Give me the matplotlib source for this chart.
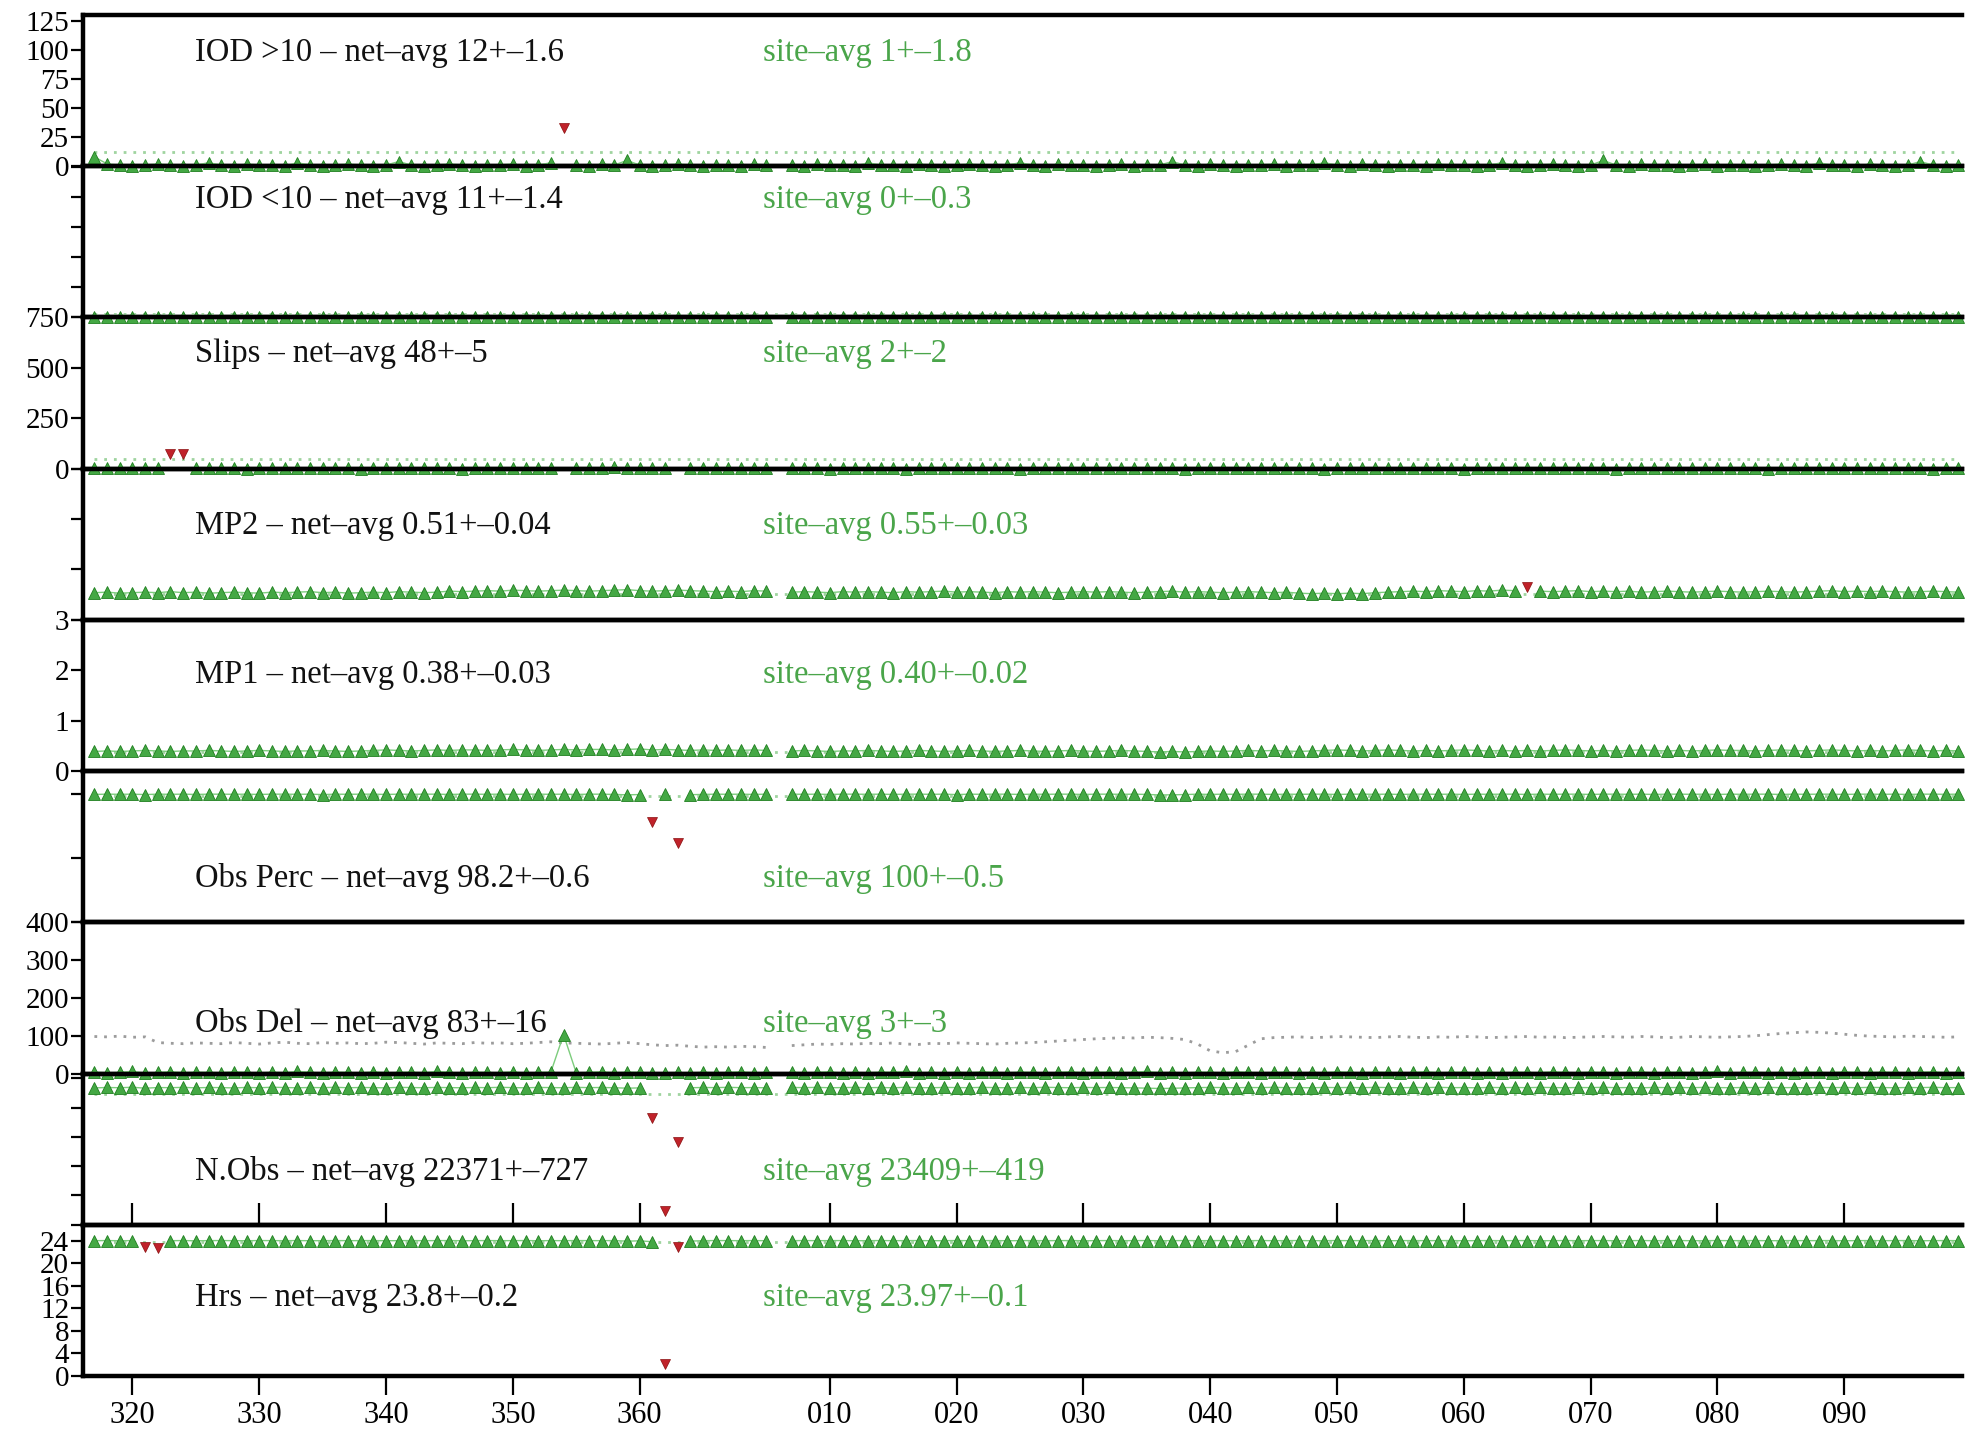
import numpy as np
import matplotlib.pyplot as plt

plt.rcParams['font.family'] = ['Liberation Serif', 'DejaVu Serif']

# day numbers (day of year, continued past 365 into the next year)
days = list(range(317, 465))
x_ticks = [320, 330, 340, 350, 360, 375, 385, 395, 405, 415, 425, 435, 445, 455]
x_labels = ['320', '330', '340', '350', '360', '010', '020', '030', '040',
            '050', '060', '070', '080', '090']

panel_names = ['IOD >10', 'IOD <10', 'Slips', 'MP2', 'MP1',
               'Obs Perc', 'Obs Del', 'N.Obs', 'Hrs']
net_avg = [12, 11, 48, 0.51, 0.38, 98.2, 83, 22371, 23.8]
net_text = ['12+–1.6', '11+–1.4', '48+–5', '0.51+–0.04', '0.38+–0.03',
            '98.2+–0.6', '83+–16', '22371+–727', '23.8+–0.2']
site_text = ['1+–1.8', '0+–0.3', '2+–2', '0.55+–0.03', '0.40+–0.02',
             '100+–0.5', '3+–3', '23409+–419', '23.97+–0.1']

# site daily values (None = missing / flagged)
iod_hi = [8, 2, 1, 0, 1, 2, 1, 0, 1, 3,
          1, 0, 2, 1, 1, 0, 3, 1, 0, 1,
          2, 1, 0, 1, 4, 1, 0, 1, 2, 1,
          0, 1, 1, 2, 0, 1, 3, None, 1, 0,
          2, 1, 5, 1, 0, 1, 2, 1, 0, 1,
          1, 0, 2, 1, None, 1, 0, 2, 1, 1,
          0, 3, 1, 1, 0, 2, 1, 0, 1, 2,
          1, 0, 1, 3, 1, 0, 2, 1, 1, 0,
          1, 2, 0, 1, 1, 4, 1, 0, 2, 1,
          0, 1, 1, 2, 0, 1, 1, 3, 1, 0,
          2, 1, 0, 1, 1, 0, 2, 1, 1, 0,
          1, 3, 1, 0, 1, 2, 1, 0, 1, 5,
          1, 0, 2, 1, 1, 0, 1, 2, 0, 1,
          1, 0, 1, 2, 1, 0, 3, 1, 1, 0,
          2, 1, 0, 1, 4, 1, 0, 1]
iod_lo = [0, 0, 1, 0, 0, 0, 0, 1, 0, 0,
          0, 1, 0, 0, 0, 0, 0, 0, 1, 0,
          0, 0, 0, 1, 0, 0, 0, 0, 0, 0,
          1, 0, 0, 0, 0, 0, 1, 0, 0, 0,
          0, 0, 0, 0, 1, 0, 0, 0, 0, 0,
          0, 1, 0, 0, None, 0, 0, 0, 1, 0,
          0, 0, 0, 0, 0, 1, 0, 0, 0, 0,
          1, 0, 0, 0, 0, 0, 0, 1, 0, 0,
          0, 0, 1, 0, 0, 0, 0, 0, 0, 1,
          0, 0, 0, 0, 1, 0, 0, 0, 0, 0,
          0, 1, 0, 0, 0, 0, 0, 0, 1, 0,
          0, 0, 0, 1, 0, 0, 0, 0, 0, 0,
          1, 0, 0, 0, 0, 0, 1, 0, 0, 0,
          0, 0, 0, 0, 0, 1, 0, 0, 0, 0,
          0, 1, 0, 0, 0, 0, 0, 1]
slips = [3, 1, 2, 4, 2, 1, None, None, 2, 3,
         1, 2, 0, 3, 2, 4, 1, 2, 3, 1,
         2, 0, 1, 3, 2, 2, 5, 1, 2, 0,
         3, 2, 1, 2, 4, 1, 2, None, 3, 1,
         2, 6, 1, 2, 3, 1, None, 2, 1, 3,
         2, 1, 4, 2, None, 1, 2, 3, 0, 2,
         1, 3, 2, 2, 0, 4, 1, 2, 3, 1,
         2, 1, 3, 0, 2, 2, 4, 1, 2, 3,
         1, 2, 2, 5, 1, 3, 0, 2, 1, 2,
         3, 1, 2, 4, 2, 1, 2, 0, 3, 2,
         1, 2, 3, 1, 2, 4, 1, 2, 0, 3,
         2, 1, 2, 3, 1, 2, 5, 1, 2, 2,
         0, 3, 1, 2, 4, 2, 1, 2, 3, 1,
         2, 2, 0, 1, 3, 2, 4, 1, 2, 3,
         1, 2, 2, 3, 1, 0, 2, 3]
mp2 = [.54, .55, .53, .54, .55, .54, .56, .54, .55, .53,
       .54, .55, .54, .53, .55, .54, .55, .56, .54, .55,
       .53, .54, .55, .54, .56, .55, .54, .55, .57, .56,
       .57, .58, .57, .59, .58, .57, .58, .59, .58, .57,
       .58, .59, .60, .58, .57, .58, .59, .58, .57, .56,
       .57, .56, .58, .57, None, .55, .56, .55, .54, .56,
       .55, .56, .55, .54, .56, .55, .56, .57, .55, .56,
       .55, .54, .56, .55, .56, .55, .54, .55, .56, .55,
       .56, .55, .54, .55, .56, .57, .55, .56, .55, .54,
       .55, .56, .55, .54, .55, .53, .52, .53, .52, .53,
       .52, .54, .55, .56, .57, .56, .58, .57, .56, .58,
       .57, .59, .58, None, .57, .56, .57, .58, .56, .57,
       .56, .57, .55, .56, .57, .56, .55, .56, .57, .56,
       .55, .56, .57, .56, .55, .56, .57, .58, .56, .57,
       .56, .57, .56, .55, .56, .57, .56, .55]
mp1 = [.39, .40, .39, .40, .41, .40, .39, .40, .40, .41,
       .40, .39, .40, .41, .40, .39, .40, .40, .41, .40,
       .39, .40, .41, .42, .41, .40, .41, .42, .41, .42,
       .42, .41, .42, .43, .42, .41, .42, .43, .42, .43,
       .43, .42, .43, .44, .42, .43, .42, .41, .42, .41,
       .42, .41, .42, .41, None, .40, .41, .40, .39, .40,
       .40, .41, .40, .39, .40, .41, .40, .39, .40, .41,
       .40, .39, .40, .41, .40, .39, .40, .41, .40, .39,
       .40, .41, .40, .39, .38, .39, .38, .39, .40, .39,
       .40, .41, .40, .41, .40, .39, .40, .41, .42, .41,
       .40, .41, .42, .41, .40, .41, .40, .41, .42, .41,
       .40, .41, .40, .41, .40, .41, .42, .41, .40, .41,
       .40, .41, .42, .41, .40, .41, .40, .41, .42, .41,
       .41, .40, .41, .42, .41, .40, .41, .42, .41, .40,
       .41, .40, .41, .42, .41, .40, .41, .40]
obs_perc = [99.8, 100, 99.9, 100, 99.7, 100, 99.9, 100, 99.8, 100,
            100, 99.9, 100, 99.8, 100, 100, 99.9, 100, 99.7, 100,
            99.9, 100, 100, 99.8, 100, 99.9, 100, 100, 99.8, 100,
            100, 99.9, 100, 99.8, 100, 100, 99.9, 100, 99.8, 100,
            100, 99.8, 99.5, 99.7, None, 100, None, 99.6, 99.8, 100,
            99.9, 100, 99.8, 100, None, 100, 99.9, 100, 99.8, 100,
            100, 99.9, 100, 99.8, 100, 100, 99.9, 100, 99.7, 100,
            99.9, 100, 100, 99.8, 100, 99.9, 100, 100, 99.8, 100,
            100, 99.9, 100, 99.8, 99.4, 99.5, 99.7, 100, 99.8, 100,
            99.9, 100, 100, 99.8, 100, 99.9, 100, 100, 99.8, 100,
            100, 99.9, 100, 99.8, 100, 100, 99.9, 100, 99.8, 100,
            99.9, 100, 100, 99.8, 100, 99.9, 100, 100, 99.8, 100,
            100, 99.9, 100, 99.8, 100, 100, 99.9, 100, 99.8, 100,
            99.9, 100, 100, 99.8, 100, 99.9, 100, 100, 99.8, 100,
            100, 99.9, 100, 99.8, 100, 100, 99.9, 100]
obs_del = [4, 2, 3, 6, 1, 3, 5, 2, 4, 3,
           2, 5, 3, 1, 4, 2, 6, 3, 2, 4,
           3, 1, 5, 2, 3, 4, 2, 6, 3, 1,
           4, 3, 2, 5, 1, 3, 4, 103, 2, 3,
           5, 2, 4, 3, 1, 2, 3, 1, 4, 2,
           3, 5, 2, 3, None, 4, 2, 3, 5, 1,
           3, 2, 4, 3, 6, 2, 3, 1, 4, 2,
           5, 3, 2, 4, 3, 1, 3, 5, 2, 3,
           4, 2, 3, 6, 2, 3, 1, 4, 3, 2,
           5, 3, 2, 3, 4, 1, 3, 2, 5, 3,
           2, 4, 3, 1, 3, 5, 2, 3, 4, 2,
           3, 1, 4, 3, 2, 5, 3, 2, 4, 3,
           2, 3, 5, 1, 3, 4, 2, 3, 6, 2,
           3, 4, 2, 3, 1, 4, 3, 2, 5, 3,
           2, 4, 3, 1, 3, 5, 2, 3]
n_obs = [23350, 23420, 23380, 23460, 23300, 23410, 23390, 23440, 23360, 23420,
         23400, 23350, 23430, 23380, 23460, 23410, 23370, 23420, 23390, 23450,
         23380, 23420, 23400, 23360, 23440, 23410, 23380, 23430, 23400, 23370,
         23420, 23390, 23450, 23400, 23370, 23430, 23410, 23380, 23440, 23400,
         23420, 23380, 23300, 23350, None, None, None, 23380, 23420, 23400,
         23450, 23390, 23410, 23370, None, 23420, 23400, 23440, 23380, 23410,
         23430, 23390, 23420, 23370, 23450, 23400, 23380, 23430, 23410, 23390,
         23440, 23400, 23370, 23420, 23390, 23450, 23410, 23380, 23430, 23400,
         23420, 23390, 23360, 23300, 23250, 23280, 23350, 23400, 23430, 23410,
         23380, 23420, 23400, 23450, 23390, 23410, 23370, 23430, 23400, 23420,
         23390, 23440, 23410, 23380, 23420, 23400, 23450, 23390, 23410, 23370,
         23430, 23400, 23420, 23390, 23440, 23410, 23380, 23420, 23400, 23450,
         23390, 23410, 23370, 23430, 23400, 23420, 23390, 23440, 23410, 23380,
         23420, 23400, 23450, 23390, 23410, 23370, 23430, 23400, 23420, 23390,
         23440, 23410, 23380, 23420, 23400, 23450, 23390, 23410]
hrs = [23.98, 24.0, 23.97, 23.99, None, None, 23.98, 24.0, 23.96, 23.99,
       24.0, 23.98, 23.97, 24.0, 23.99, 23.98, 24.0, 23.97, 23.99, 24.0,
       23.98, 23.99, 24.0, 23.97, 23.99, 24.0, 23.98, 23.99, 24.0, 23.97,
       23.99, 24.0, 23.98, 23.99, 24.0, 23.97, 23.99, 23.98, 24.0, 23.99,
       23.98, 24.0, 23.9, 23.95, 23.8, None, None, 23.9, 23.98, 24.0,
       23.99, 23.98, 24.0, 23.97, None, 23.99, 24.0, 23.98, 23.99, 24.0,
       23.97, 23.99, 24.0, 23.98, 23.99, 24.0, 23.97, 23.99, 24.0, 23.98,
       23.99, 24.0, 23.97, 23.99, 24.0, 23.98, 23.99, 24.0, 23.97, 23.99,
       24.0, 23.98, 23.99, 24.0, 23.97, 23.99, 24.0, 23.98, 23.99, 24.0,
       23.97, 23.99, 24.0, 23.98, 23.99, 24.0, 23.97, 23.99, 24.0, 23.98,
       23.99, 24.0, 23.97, 23.99, 24.0, 23.98, 23.99, 24.0, 23.97, 23.99,
       24.0, 23.98, 23.99, 24.0, 23.97, 23.99, 24.0, 23.98, 23.99, 24.0,
       23.97, 23.99, 24.0, 23.98, 23.99, 24.0, 23.97, 23.99, 24.0, 23.98,
       23.99, 24.0, 23.97, 23.99, 24.0, 23.98, 23.99, 24.0, 23.97, 23.99,
       24.0, 23.98, 23.99, 24.0, 23.97, 23.99, 24.0, 23.98]

# network daily mean of deleted observations (grey dotted line)
obs_del_net = [98, 97, 99, 96, 97, 82, 80, 79, 81, 80,
               79, 82, 80, 78, 81, 83, 80, 79, 82, 80,
               81, 79, 80, 83, 82, 80, 78, 81, 80, 79,
               82, 80, 81, 79, 80, 82, 84, 81, 80, 79,
               78, 80, 82, 79, 76, 74, 75, 72, 70, 71,
               70, 72, 71, 69, None, 74, 76, 78, 77, 79,
               78, 80, 79, 81, 78, 77, 80, 79, 81, 80,
               79, 78, 80, 81, 82, 84, 86, 88, 90, 92,
               93, 95, 94, 96, 95, 93, 90, 78, 60, 55,
               58, 75, 92, 95, 96, 97, 95, 96, 98, 97,
               96, 95, 97, 98, 96, 95, 97, 96, 98, 97,
               95, 96, 97, 98, 96, 97, 95, 96, 97, 98,
               97, 96, 98, 97, 95, 96, 98, 97, 96, 97,
               98, 100, 103, 106, 108, 110, 109, 107, 104, 101,
               99, 98, 97, 99, 98, 97, 96, 97]

# flagged days (red)
iod_hi_bad_days, iod_hi_bad = [354], [33]
slips_bad_days, slips_bad = [323, 324], [75, 72]
mp2_bad_days, mp2_bad = [430], [0.65]
obs_perc_bad_days, obs_perc_bad = [361, 363], [78, 62]
n_obs_bad_days, n_obs_bad = [361, 362, 363], [18300, 2400, 14200]
hrs_bad_days, hrs_bad = [321, 322, 362, 363], [22.8, 22.7, 2.2, 22.8]

site_series = [iod_hi, iod_lo, slips, mp2, mp1, obs_perc, obs_del, n_obs, hrs]
bad_series = [(iod_hi_bad_days, iod_hi_bad), ([], []), (slips_bad_days, slips_bad),
              (mp2_bad_days, mp2_bad), ([], []), (obs_perc_bad_days, obs_perc_bad),
              ([], []), (n_obs_bad_days, n_obs_bad), (hrs_bad_days, hrs_bad)]

ylims = [130, 503, 750, 3.0, 3.0, 118, 400, 25800, 26.8]
yticks = [[0, 25, 50, 75, 100, 125], [0, 100, 200, 300, 400, 500], [0, 250, 500, 750],
          [0, 1, 2, 3], [0, 1, 2, 3], [0, 50, 100], [0, 100, 200, 300, 400],
          [0, 5000, 10000, 15000, 20000, 25000], [0, 4, 8, 12, 16, 20, 24]]
show_labels = [True, False, True, False, True, False, True, False, True]
text_y = [0.75, 0.775, 0.76, 0.625, 0.636, 0.29, 0.33, 0.35, 0.52]

green = '#44a844'
dark_green = '#1f7f1f'
text_green = '#4aa54a'
red = '#c0222a'

fig = plt.figure(figsize=(19.76, 14.29), dpi=100)
axes = fig.subplots(9, 1, sharex=True, gridspec_kw=dict(hspace=0))
fig.subplots_adjust(left=0.042, right=0.993, top=0.9895, bottom=0.0371)

for i, ax in enumerate(axes):
    ax.set_facecolor('none')
    vals = np.array(site_series[i], dtype=float)

    # network reference
    if panel_names[i] == 'Obs Del':
        ax.plot(days, np.array(obs_del_net, dtype=float), linestyle=(0, (1, 2.5)),
                color='#9c9c9c', lw=2, zorder=2.6, clip_on=False)
    else:
        ax.hlines(net_avg[i], days[0], days[-1], colors='#9fd49f',
                  linestyles=(0, (1, 2.5)), lw=2, zorder=2.6)

    ax.plot(days, vals, '-', color='#7ccc7c', lw=1.0, zorder=3, clip_on=False)
    ax.plot(days, vals, '^', color=green, mec=dark_green, mew=0.6, ms=8,
            zorder=3.1, clip_on=False)

    bd, bv = bad_series[i]
    if bd:
        ax.plot(bd, bv, 'v', color=red, mec='#8a1010', mew=0.5, ms=7.5,
                linestyle='none', zorder=3.2, clip_on=False)

    ax.set_ylim(0, ylims[i])
    ax.set_yticks(yticks[i])
    ax.tick_params(axis='y', direction='out', length=9, width=1.6,
                   labelsize=21, pad=1, labelleft=show_labels[i])

    for side in ['left', 'top', 'bottom']:
        ax.spines[side].set_linewidth(3.2)
        ax.spines[side].set_color('black')
    ax.spines['right'].set_visible(False)

    ax.text(0.0596, text_y[i], f'{panel_names[i]} – net–avg {net_text[i]}',
            transform=ax.transAxes, fontsize=23.5, color='#111111', va='center')
    ax.text(0.362, text_y[i], f'site–avg {site_text[i]}',
            transform=ax.transAxes, fontsize=23.5, color=text_green, va='center')

    if i == 7:
        ax.tick_params(axis='x', direction='in', length=16, width=1.6,
                       bottom=True, labelbottom=False)
    elif i == 8:
        ax.tick_params(axis='x', direction='out', length=14, width=1.6,
                       bottom=True, labelbottom=True, labelsize=22, pad=4)
    else:
        ax.tick_params(axis='x', bottom=False, labelbottom=False)

axes[-1].set_xlim(316.1, 464.3)
axes[-1].set_xticks(x_ticks)
axes[-1].set_xticklabels(x_labels)

fig.savefig('out.png', dpi=100, facecolor='white')
